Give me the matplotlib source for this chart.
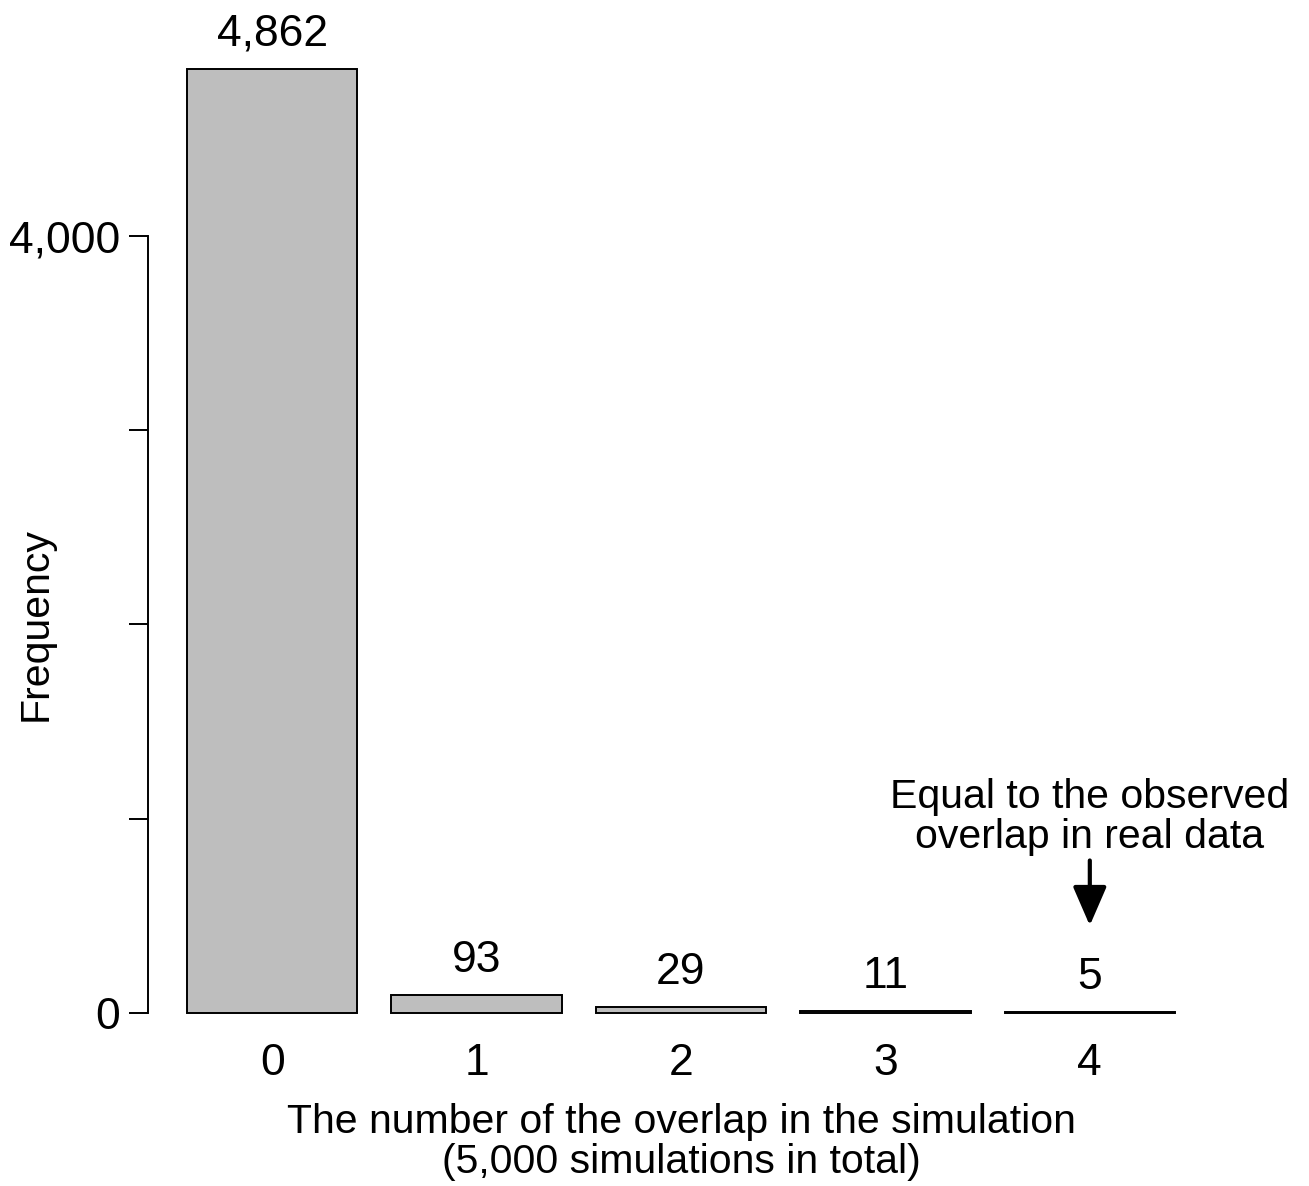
import numpy as np
import matplotlib
matplotlib.use("Agg")
import matplotlib.pyplot as plt

plt.rcParams['font.family'] = ['Liberation Sans', 'DejaVu Sans']

# data
overlap = ['0', '1', '2', '3', '4']
freq = [4862, 93, 29, 11, 5]
freq_labels = ['4,862', '93', '29', '11', '5']
ytick_vals = [0, 1000, 2000, 3000, 4000]
ytick_labels = ['0', '', '', '', '4,000']

# R-style barplot layout: width 1, space 0.2
pos = 0.2 + np.arange(len(freq)) * 1.2 + 0.5

fig = plt.figure(figsize=(13.09, 11.86), dpi=100)
ax = fig.add_axes([147.5 / 1309, 1 - 1044 / 1186, 1067 / 1309, 839 / 1186])

ax.bar(pos, freq, width=1.0, color='#bebebe', edgecolor='black', linewidth=1.4, clip_on=False)

for x, h, lab in zip(pos, freq, freq_labels):
    ax.annotate(lab, xy=(x, h), xytext=(0, 10), textcoords='offset points',
                ha='center', va='bottom', fontsize=32, annotation_clip=False)

ax.set_xlim(-0.032, 6.232)
ax.set_ylim(-160, 4160)

for s in ['top', 'right', 'bottom']:
    ax.spines[s].set_visible(False)
ax.spines['left'].set_bounds(0, 4000)
ax.spines['left'].set_linewidth(1.4)

ax.set_xticks(pos)
ax.set_xticklabels(overlap)
ax.tick_params(axis='x', length=0, pad=-1, labelsize=32)

ax.set_yticks(ytick_vals)
ax.set_yticklabels(ytick_labels)
ax.tick_params(axis='y', length=14, width=1.4, pad=5.5, labelsize=32)

fig.text(36 / 1309, 1 - 624.5 / 1186, 'Frequency', rotation=90,
         ha='center', va='center', fontsize=29.5)
fig.text(681 / 1309, 1 - 1142 / 1186,
         'The number of the overlap in the simulation\n(5,000 simulations in total)',
         ha='center', va='center', fontsize=29.5, linespacing=1.05)

# note + arrow pointing at the observed value
ax.text(pos[4], 1010, 'Equal to the observed\noverlap in real data',
        ha='center', va='center', fontsize=29.5, linespacing=1.05)
ax.annotate('', xy=(pos[4], 450), xytext=(pos[4], 785),
            arrowprops=dict(arrowstyle='-|>,head_length=1.2,head_width=0.52',
                            mutation_scale=20, lw=3, color='black',
                            shrinkA=0, shrinkB=0))

plt.savefig('out.png', dpi=100)
